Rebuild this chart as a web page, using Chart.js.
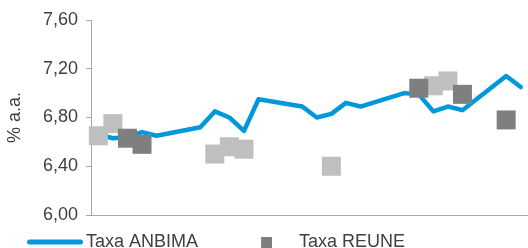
<!DOCTYPE html>
<html>
<head>
<meta charset="utf-8">
<script src="https://cdn.jsdelivr.net/npm/chart.js@4/dist/chart.umd.min.js"></script>
<style>
  body { margin: 0; background: #fff; }
  canvas { display: block; }
</style>
</head>
<body>
<canvas id="taxa" width="528" height="248"></canvas>
<script>
// data (calendar days, weekends empty)
const days = ["1", "2", "3", "4", "5", "6", "7", "8", "9", "10", "11", "12", "13", "14", "15",
  "16", "17", "18", "19", "20", "21", "22", "23", "24", "25", "26", "27", "28", "29", "30"];
const taxaAnbima = [6.66, 6.63, 6.64, 6.68, 6.65, null, null, 6.72, 6.85, 6.80, 6.69, 6.95, null, null,
  6.89, 6.80, 6.83, 6.92, 6.89, null, null, 7.00, 6.99, 6.85, 6.89, 6.86, null, null, 7.14, 7.05];
const taxaAnterior = [6.65, 6.75, null, null, null, null, null, null, 6.50, 6.56, 6.54, null, null, null,
  null, null, 6.40, null, null, null, null, null, null, 7.06, 7.10, null, null, null, null, null];
const taxaReune = [null, null, 6.63, 6.58, null, null, null, null, null, null, null, null, null, null,
  null, null, null, null, null, null, null, null, 7.04, null, null, 6.99, null, null, 6.78, null];
const yTicks = [6.0, 6.4, 6.8, 7.2, 7.6];

const blue = "#0098DA";
const lightGray = "#BFBFBF";
const darkGray = "#7F7F7F";
const axisGray = "#A6A6A6";
const textColor = "#404040";
const family = "'Liberation Sans', Arial, sans-serif";

// legend icons
const lineIcon = document.createElement("canvas");
lineIcon.width = 71;
lineIcon.height = 8;
const lctx = lineIcon.getContext("2d");
lctx.strokeStyle = blue;
lctx.lineWidth = 5;
lctx.lineCap = "round";
lctx.beginPath();
lctx.moveTo(17.5, 4);
lctx.lineTo(68.5, 4);
lctx.stroke();

const squareIcon = document.createElement("canvas");
squareIcon.width = 23;
squareIcon.height = 11;
const sctx = squareIcon.getContext("2d");
sctx.fillStyle = darkGray;
sctx.fillRect(12, 0, 11, 11);

const squareRadius = 19 / Math.SQRT2;

new Chart(document.getElementById("taxa"), {
  type: "line",
  data: {
    labels: days,
    datasets: [
      {
        label: "Taxa ANBIMA",
        data: taxaAnbima,
        borderColor: blue,
        backgroundColor: blue,
        borderWidth: 4.5,
        borderCapStyle: "round",
        borderJoinStyle: "round",
        pointRadius: 0,
        pointHoverRadius: 0,
        spanGaps: true,
        tension: 0,
        order: 3,
      },
      {
        label: "Taxa anterior",
        data: taxaAnterior,
        showLine: false,
        pointStyle: "rect",
        pointRadius: squareRadius,
        pointHoverRadius: squareRadius,
        pointBackgroundColor: lightGray,
        pointBorderWidth: 0,
        backgroundColor: lightGray,
        borderColor: lightGray,
        clip: false,
        order: 2,
      },
      {
        label: "Taxa REUNE",
        data: taxaReune,
        showLine: false,
        pointStyle: "rect",
        pointRadius: squareRadius,
        pointHoverRadius: squareRadius,
        pointBackgroundColor: darkGray,
        pointBorderWidth: 0,
        backgroundColor: darkGray,
        borderColor: darkGray,
        clip: false,
        order: 1,
      },
    ],
  },
  options: {
    responsive: false,
    animation: false,
    devicePixelRatio: 1,
    layout: {
      autoPadding: false,
      padding: { top: 20, right: 0, bottom: -13, left: 0 },
    },
    scales: {
      x: {
        offset: true,
        grid: { display: false, drawTicks: false },
        ticks: { display: false },
        border: { color: axisGray, width: 1 },
      },
      y: {
        min: yTicks[0],
        max: yTicks[yTicks.length - 1],
        afterBuildTicks: (axis) => {
          axis.ticks = yTicks.map((v) => ({ value: v }));
        },
        ticks: {
          padding: 8,
          color: textColor,
          font: { family, size: 18 },
          callback: (value) => value.toFixed(2).replace(".", ","),
        },
        grid: {
          drawOnChartArea: false,
          drawTicks: true,
          tickLength: 5,
          color: axisGray,
        },
        border: { color: axisGray, width: 1 },
        title: {
          display: true,
          text: "% a.a.",
          color: textColor,
          font: { family, size: 18 },
          // ticks padding is counted twice in the axis width
          padding: { top: 4, bottom: 9.4 },
        },
      },
    },
    plugins: {
      tooltip: { enabled: false },
      legend: {
        position: "bottom",
        align: "start",
        reverse: true,
        labels: {
          usePointStyle: true,
          pointStyleWidth: 59,
          padding: 18,
          color: textColor,
          font: { family, size: 18 },
          filter: (item) => item.datasetIndex !== 1,
          generateLabels: (chart) => {
            const items = Chart.defaults.plugins.legend.labels.generateLabels(chart);
            items.forEach((item) => {
              if (item.datasetIndex === 0) {
                item.pointStyle = lineIcon;
                item.text += "   ";
              } else if (item.datasetIndex === 2) {
                item.pointStyle = squareIcon;
              }
            });
            return items;
          },
        },
      },
    },
  },
});
</script>
</body>
</html>
